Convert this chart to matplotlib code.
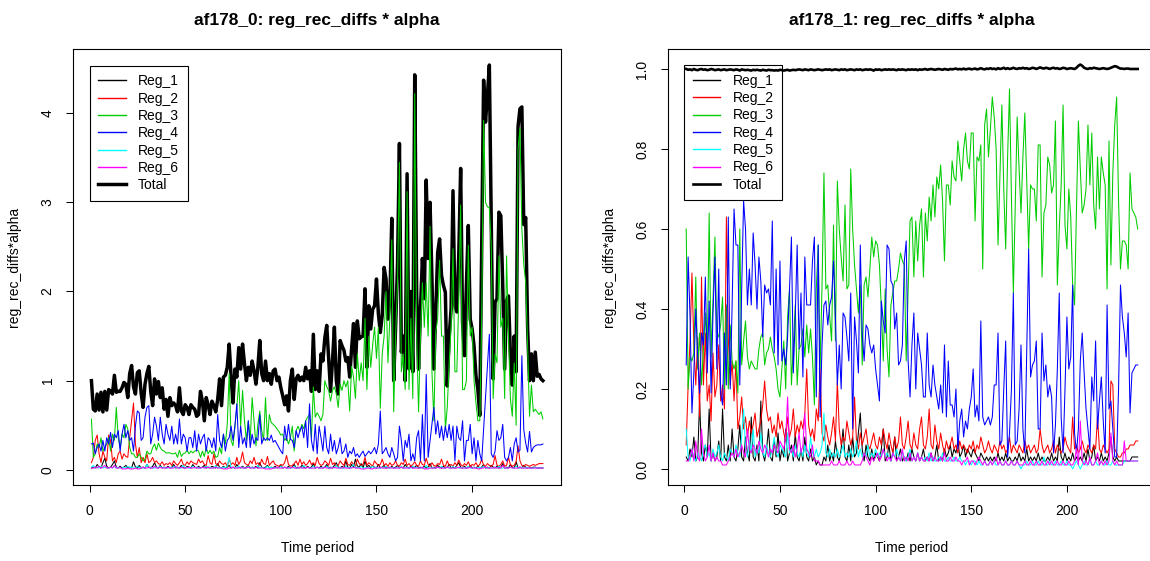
import numpy as np
import matplotlib
matplotlib.use("Agg")
import matplotlib.pyplot as plt

plt.rcParams['font.family'] = ['Liberation Sans', 'DejaVu Sans']

# ---------------- af178_0 (left panel) ----------------
left_total = [
    1.00, 0.68, 0.66, 0.85, 0.67, 0.87, 0.65, 0.88, 0.67, 0.90, 0.88, 0.85, 1.06, 0.87, 0.88, 0.88, 0.92, 0.98, 0.96, 0.81,
    1.08, 1.17, 0.93, 0.85, 1.09, 1.11, 0.86, 0.70, 0.96, 1.08, 1.16, 0.88, 0.72, 1.02, 0.85, 0.99, 0.81, 0.92, 0.68, 0.79,
    0.60, 0.81, 0.72, 0.75, 0.72, 0.65, 0.92, 0.66, 0.62, 0.73, 0.70, 0.62, 0.73, 0.70, 0.68, 0.60, 0.62, 0.88, 0.77, 0.55,
    0.81, 0.73, 0.62, 0.77, 0.72, 0.65, 0.79, 1.02, 0.72, 1.04, 1.06, 1.15, 1.41, 1.04, 0.75, 1.13, 1.04, 1.37, 1.13, 1.41,
    1.19, 1.00, 1.15, 1.06, 1.22, 1.11, 0.96, 1.15, 1.45, 1.08, 1.00, 1.22, 1.00, 1.08, 0.96, 1.11, 1.13, 1.00, 1.04, 0.92,
    0.83, 0.73, 0.83, 0.66, 1.00, 1.13, 0.79, 1.02, 1.06, 1.00, 1.04, 1.00, 1.15, 1.02, 1.11, 0.88, 1.52, 0.90, 1.11, 0.88,
    1.30, 1.22, 1.48, 1.62, 1.26, 0.88, 1.22, 1.60, 1.00, 0.85, 1.45, 1.39, 1.34, 1.22, 1.26, 1.04, 1.36, 1.64, 1.15, 1.67,
    1.47, 1.49, 1.50, 2.03, 1.15, 1.84, 1.58, 1.80, 1.84, 2.14, 1.75, 1.54, 1.73, 2.27, 2.14, 1.69, 1.90, 2.82, 1.00, 1.60,
    2.30, 3.66, 1.32, 1.50, 1.00, 3.32, 1.13, 2.00, 1.10, 4.43, 2.00, 1.13, 1.80, 2.37, 1.92, 3.25, 2.37, 3.00, 2.14, 1.13,
    1.80, 2.44, 2.59, 2.18, 2.07, 1.99, 0.94, 1.50, 1.80, 3.13, 1.84, 1.77, 2.40, 3.38, 1.65, 1.28, 2.07, 2.74, 1.69, 1.58,
    1.39, 1.06, 0.90, 0.61, 2.50, 4.37, 3.90, 4.20, 4.54, 2.74, 1.02, 1.88, 1.92, 2.89, 2.85, 2.07, 1.13, 1.90, 1.95, 1.30,
    0.95, 1.50, 1.10, 3.85, 4.05, 4.07, 2.75, 2.83, 1.60, 1.00, 1.30, 1.00, 1.32, 1.05, 1.07, 1.02, 1.00,
]
left_reg1 = [
    0.02, 0.03, 0.02, 0.06, 0.03, 0.02, 0.08, 0.13, 0.04, 0.02, 0.03, 0.06, 0.10, 0.03, 0.02, 0.04, 0.02, 0.03, 0.05, 0.02,
    0.03, 0.02, 0.09, 0.03, 0.02, 0.05, 0.02, 0.03, 0.02, 0.06, 0.03, 0.02, 0.04, 0.08, 0.03, 0.02, 0.05, 0.02, 0.03, 0.02,
    0.04, 0.02, 0.03, 0.06, 0.02, 0.03, 0.02, 0.05, 0.03, 0.02, 0.04, 0.03, 0.02, 0.06, 0.03, 0.02, 0.04, 0.02, 0.03, 0.05,
    0.02, 0.03, 0.02, 0.04, 0.03, 0.02, 0.07, 0.03, 0.02, 0.04, 0.02, 0.03, 0.05, 0.02, 0.03, 0.02, 0.06, 0.03, 0.02, 0.04,
    0.02, 0.03, 0.05, 0.02, 0.03, 0.02, 0.04, 0.02, 0.08, 0.03, 0.02, 0.03, 0.05, 0.02, 0.03, 0.02, 0.04, 0.02, 0.03, 0.05,
    0.02, 0.03, 0.02, 0.04, 0.02, 0.03, 0.06, 0.02, 0.03, 0.02, 0.05, 0.03, 0.02, 0.04, 0.02, 0.03, 0.07, 0.02, 0.03, 0.02,
    0.04, 0.02, 0.03, 0.06, 0.02, 0.03, 0.02, 0.05, 0.08, 0.03, 0.02, 0.04, 0.02, 0.10, 0.03, 0.02, 0.06, 0.03, 0.12, 0.04,
    0.03, 0.07, 0.02, 0.10, 0.03, 0.05, 0.02, 0.04, 0.03, 0.02, 0.06, 0.02, 0.03, 0.05, 0.02, 0.03, 0.02, 0.04, 0.02, 0.03,
    0.05, 0.02, 0.03, 0.02, 0.06, 0.03, 0.02, 0.04, 0.02, 0.03, 0.05, 0.02, 0.03, 0.02, 0.04, 0.02, 0.03, 0.07, 0.02, 0.03,
    0.02, 0.05, 0.03, 0.02, 0.04, 0.02, 0.03, 0.06, 0.02, 0.03, 0.02, 0.05, 0.08, 0.03, 0.02, 0.04, 0.02, 0.03, 0.05, 0.02,
    0.03, 0.02, 0.04, 0.02, 0.03, 0.06, 0.02, 0.03, 0.02, 0.05, 0.03, 0.02, 0.04, 0.02, 0.03, 0.07, 0.02, 0.03, 0.02, 0.06,
    0.03, 0.02, 0.09, 0.02, 0.03, 0.02, 0.05, 0.03, 0.02, 0.03, 0.02, 0.03, 0.03, 0.02, 0.02, 0.02, 0.02,
]
left_reg2 = [
    0.08, 0.14, 0.33, 0.39, 0.18, 0.08, 0.21, 0.14, 0.10, 0.39, 0.33, 0.10, 0.14, 0.08, 0.18, 0.21, 0.12, 0.18, 0.15, 0.14,
    0.36, 0.55, 0.75, 0.29, 0.14, 0.25, 0.08, 0.14, 0.08, 0.18, 0.08, 0.10, 0.14, 0.08, 0.10, 0.07, 0.06, 0.09, 0.05, 0.07,
    0.06, 0.08, 0.05, 0.10, 0.07, 0.05, 0.08, 0.12, 0.06, 0.05, 0.09, 0.06, 0.10, 0.08, 0.07, 0.06, 0.12, 0.08, 0.10, 0.06,
    0.05, 0.16, 0.08, 0.06, 0.18, 0.07, 0.05, 0.10, 0.07, 0.06, 0.08, 0.04, 0.12, 0.06, 0.08, 0.05, 0.14, 0.06, 0.10, 0.20,
    0.08, 0.06, 0.05, 0.10, 0.07, 0.14, 0.06, 0.08, 0.05, 0.12, 0.07, 0.06, 0.15, 0.05, 0.08, 0.10, 0.06, 0.05, 0.04, 0.06,
    0.05, 0.08, 0.16, 0.06, 0.04, 0.05, 0.07, 0.10, 0.05, 0.12, 0.06, 0.09, 0.05, 0.07, 0.11, 0.06, 0.08, 0.05, 0.14, 0.07,
    0.05, 0.06, 0.10, 0.08, 0.05, 0.13, 0.06, 0.08, 0.04, 0.05, 0.10, 0.07, 0.05, 0.13, 0.06, 0.05, 0.09, 0.06, 0.04, 0.12,
    0.07, 0.05, 0.06, 0.14, 0.05, 0.08, 0.06, 0.04, 0.10, 0.07, 0.05, 0.06, 0.12, 0.05, 0.07, 0.04, 0.08, 0.05, 0.06, 0.10,
    0.05, 0.04, 0.08, 0.06, 0.12, 0.05, 0.07, 0.04, 0.06, 0.09, 0.05, 0.04, 0.10, 0.06, 0.05, 0.13, 0.06, 0.04, 0.08, 0.05,
    0.04, 0.07, 0.06, 0.12, 0.05, 0.04, 0.10, 0.05, 0.06, 0.04, 0.08, 0.05, 0.11, 0.06, 0.04, 0.07, 0.05, 0.09, 0.04, 0.06,
    0.05, 0.08, 0.04, 0.06, 0.12, 0.05, 0.04, 0.07, 0.05, 0.04, 0.06, 0.16, 0.05, 0.04, 0.06, 0.10, 0.04, 0.05, 0.14, 0.06,
    0.04, 0.05, 0.09, 0.27, 0.10, 0.05, 0.04, 0.06, 0.05, 0.04, 0.05, 0.06, 0.05, 0.06, 0.07, 0.07, 0.07,
]
left_reg3 = [
    0.57, 0.14, 0.18, 0.29, 0.25, 0.36, 0.21, 0.25, 0.29, 0.36, 0.21, 0.40, 0.33, 0.70, 0.36, 0.25, 0.40, 0.36, 0.51, 0.46,
    0.25, 0.18, 0.18, 0.14, 0.14, 0.18, 0.14, 0.10, 0.12, 0.21, 0.18, 0.18, 0.25, 0.29, 0.22, 0.30, 0.25, 0.22, 0.21, 0.19,
    0.19, 0.19, 0.18, 0.18, 0.19, 0.14, 0.22, 0.15, 0.18, 0.19, 0.22, 0.18, 0.21, 0.19, 0.21, 0.22, 0.21, 0.14, 0.21, 0.15,
    0.25, 0.18, 0.22, 0.18, 0.21, 0.14, 0.15, 0.25, 0.18, 0.40, 0.29, 0.51, 1.08, 0.33, 0.27, 0.49, 0.70, 1.00, 0.49, 0.89,
    0.55, 0.33, 0.55, 0.33, 0.81, 0.55, 0.27, 0.51, 0.66, 0.44, 0.33, 0.81, 0.33, 0.62, 0.53, 0.51, 0.49, 0.46, 0.43, 0.39,
    0.40, 0.33, 0.36, 0.29, 0.36, 0.49, 0.21, 0.44, 0.49, 0.43, 0.51, 0.46, 0.55, 0.59, 0.62, 0.36, 0.93, 0.59, 0.64, 0.60,
    0.55, 0.62, 1.00, 0.93, 0.89, 0.77, 0.89, 0.93, 0.85, 0.70, 0.96, 0.89, 1.00, 0.93, 1.00, 0.66, 1.16, 1.04, 0.80, 1.30,
    1.00, 1.20, 1.00, 1.70, 0.90, 1.50, 1.15, 1.40, 1.60, 1.25, 1.60, 0.69, 1.30, 1.50, 2.00, 1.20, 1.70, 2.58, 0.65, 1.50,
    2.10, 3.45, 1.10, 1.30, 0.90, 3.12, 0.90, 1.70, 0.80, 4.22, 1.50, 0.65, 1.50, 2.10, 1.60, 2.10, 1.50, 2.73, 1.10, 0.55,
    1.55, 1.70, 2.35, 1.50, 1.50, 0.45, 0.70, 1.20, 1.60, 2.48, 1.10, 1.10, 1.90, 2.97, 0.90, 0.90, 1.00, 2.52, 1.50, 1.60,
    1.00, 0.75, 0.55, 0.55, 1.70, 3.92, 3.00, 2.95, 2.94, 2.50, 0.80, 1.30, 1.20, 2.40, 1.60, 1.70, 0.80, 2.40, 1.50, 0.80,
    0.60, 1.20, 0.50, 3.60, 3.83, 2.70, 2.30, 2.10, 1.40, 0.60, 0.95, 0.65, 0.68, 0.65, 0.62, 0.65, 0.57,
]
left_reg4 = [
    0.29, 0.30, 0.18, 0.25, 0.29, 0.21, 0.33, 0.21, 0.36, 0.29, 0.42, 0.25, 0.40, 0.36, 0.44, 0.21, 0.40, 0.51, 0.36, 0.44,
    0.33, 0.36, 0.21, 0.49, 0.66, 0.64, 0.33, 0.36, 0.59, 0.70, 0.72, 0.29, 0.40, 0.59, 0.49, 0.33, 0.59, 0.40, 0.29, 0.51,
    0.40, 0.33, 0.49, 0.29, 0.40, 0.29, 0.57, 0.29, 0.40, 0.36, 0.21, 0.36, 0.36, 0.25, 0.44, 0.21, 0.40, 0.29, 0.36, 0.40,
    0.21, 0.36, 0.33, 0.25, 0.36, 0.21, 0.62, 0.33, 0.25, 0.40, 0.21, 0.33, 0.36, 0.49, 0.33, 0.49, 0.74, 0.25, 0.49, 0.29,
    0.36, 0.25, 0.55, 0.25, 0.40, 0.29, 0.36, 0.33, 0.62, 0.29, 0.36, 0.33, 0.36, 0.33, 0.39, 0.31, 0.33, 0.29, 0.25, 0.21,
    0.18, 0.49, 0.33, 0.51, 0.34, 0.33, 0.25, 0.44, 0.36, 0.44, 0.49, 0.36, 0.55, 0.25, 0.74, 0.33, 0.21, 0.51, 0.18, 0.49,
    0.36, 0.21, 0.49, 0.25, 0.18, 0.40, 0.21, 0.33, 0.18, 0.25, 0.36, 0.18, 0.21, 0.29, 0.14, 0.21, 0.18, 0.25, 0.15, 0.18,
    0.14, 0.18, 0.21, 0.15, 0.18, 0.21, 0.18, 0.21, 0.25, 0.18, 0.29, 0.66, 0.18, 0.21, 0.25, 0.18, 0.14, 0.25, 0.18, 0.10,
    0.14, 0.49, 0.33, 0.10, 0.33, 0.25, 0.40, 0.10, 0.18, 0.10, 0.36, 0.44, 0.10, 0.62, 0.10, 1.07, 0.14, 0.33, 0.51, 0.70,
    0.40, 0.55, 0.36, 0.49, 0.33, 0.49, 0.36, 0.51, 0.33, 0.49, 0.10, 0.49, 0.36, 0.33, 0.55, 0.10, 0.33, 0.33, 0.51, 0.18,
    0.36, 0.10, 0.33, 0.18, 0.10, 0.45, 0.80, 1.15, 1.52, 0.18, 0.14, 0.21, 0.44, 0.33, 0.36, 0.51, 0.14, 0.10, 0.14, 0.25,
    0.10, 0.29, 0.36, 0.20, 0.22, 1.28, 0.45, 0.30, 0.20, 0.43, 0.20, 0.25, 0.27, 0.28, 0.28, 0.28, 0.29,
]
left_reg5 = [
    0.03, 0.05, 0.02, 0.03, 0.02, 0.04, 0.02, 0.03, 0.02, 0.02, 0.03, 0.02, 0.04, 0.02, 0.03, 0.02, 0.02, 0.03, 0.02, 0.04,
    0.02, 0.03, 0.02, 0.02, 0.04, 0.02, 0.03, 0.02, 0.02, 0.06, 0.02, 0.03, 0.02, 0.02, 0.03, 0.02, 0.04, 0.02, 0.03, 0.02,
    0.02, 0.03, 0.02, 0.04, 0.02, 0.03, 0.02, 0.02, 0.05, 0.02, 0.03, 0.02, 0.02, 0.04, 0.02, 0.03, 0.02, 0.02, 0.03, 0.02,
    0.04, 0.02, 0.03, 0.02, 0.02, 0.05, 0.02, 0.03, 0.02, 0.03, 0.02, 0.04, 0.14, 0.03, 0.02, 0.03, 0.02, 0.04, 0.02, 0.03,
    0.02, 0.02, 0.04, 0.02, 0.03, 0.02, 0.02, 0.05, 0.02, 0.03, 0.02, 0.02, 0.04, 0.02, 0.03, 0.02, 0.02, 0.03, 0.02, 0.04,
    0.02, 0.03, 0.02, 0.02, 0.03, 0.02, 0.04, 0.02, 0.02, 0.03, 0.02, 0.05, 0.02, 0.03, 0.02, 0.02, 0.04, 0.02, 0.03, 0.02,
    0.02, 0.03, 0.02, 0.04, 0.02, 0.02, 0.03, 0.02, 0.05, 0.02, 0.03, 0.02, 0.02, 0.04, 0.02, 0.03, 0.02, 0.06, 0.02, 0.03,
    0.02, 0.04, 0.02, 0.02, 0.03, 0.02, 0.02, 0.04, 0.02, 0.03, 0.02, 0.02, 0.03, 0.02, 0.04, 0.02, 0.02, 0.03, 0.02, 0.02,
    0.03, 0.02, 0.04, 0.02, 0.02, 0.03, 0.02, 0.02, 0.04, 0.02, 0.03, 0.02, 0.02, 0.03, 0.02, 0.05, 0.02, 0.02, 0.03, 0.02,
    0.02, 0.03, 0.02, 0.04, 0.02, 0.02, 0.03, 0.02, 0.02, 0.04, 0.02, 0.03, 0.02, 0.02, 0.03, 0.02, 0.02, 0.04, 0.02, 0.02,
    0.03, 0.02, 0.02, 0.03, 0.02, 0.04, 0.02, 0.02, 0.03, 0.02, 0.02, 0.03, 0.02, 0.04, 0.02, 0.02, 0.03, 0.02, 0.02, 0.03,
    0.02, 0.02, 0.04, 0.02, 0.02, 0.03, 0.02, 0.02, 0.03, 0.02, 0.02, 0.02, 0.03, 0.02, 0.02, 0.02, 0.02,
]
left_reg6 = [
    0.02, 0.02, 0.03, 0.02, 0.04, 0.02, 0.03, 0.05, 0.02, 0.02, 0.03, 0.02, 0.05, 0.02, 0.02, 0.03, 0.01, 0.01, 0.01, 0.02,
    0.01, 0.01, 0.01, 0.02, 0.01, 0.01, 0.02, 0.03, 0.02, 0.02, 0.03, 0.02, 0.02, 0.04, 0.02, 0.02, 0.03, 0.02, 0.02, 0.02,
    0.03, 0.02, 0.02, 0.02, 0.04, 0.02, 0.02, 0.03, 0.02, 0.02, 0.02, 0.03, 0.02, 0.02, 0.03, 0.02, 0.02, 0.02, 0.03, 0.02,
    0.02, 0.03, 0.02, 0.02, 0.02, 0.03, 0.02, 0.02, 0.02, 0.01, 0.01, 0.01, 0.02, 0.02, 0.03, 0.02, 0.02, 0.02, 0.03, 0.02,
    0.02, 0.02, 0.03, 0.02, 0.02, 0.02, 0.03, 0.02, 0.02, 0.02, 0.02, 0.01, 0.01, 0.01, 0.01, 0.02, 0.02, 0.03, 0.02, 0.02,
    0.02, 0.03, 0.02, 0.02, 0.02, 0.03, 0.02, 0.02, 0.02, 0.03, 0.02, 0.02, 0.02, 0.03, 0.02, 0.02, 0.02, 0.02, 0.03, 0.02,
    0.02, 0.02, 0.03, 0.02, 0.02, 0.02, 0.02, 0.03, 0.02, 0.02, 0.02, 0.02, 0.03, 0.02, 0.02, 0.02, 0.02, 0.03, 0.02, 0.02,
    0.02, 0.01, 0.01, 0.01, 0.02, 0.02, 0.01, 0.01, 0.02, 0.02, 0.02, 0.03, 0.02, 0.02, 0.02, 0.02, 0.03, 0.02, 0.02, 0.02,
    0.02, 0.02, 0.03, 0.02, 0.02, 0.02, 0.02, 0.03, 0.02, 0.02, 0.02, 0.02, 0.02, 0.03, 0.01, 0.01, 0.01, 0.02, 0.02, 0.02,
    0.02, 0.03, 0.02, 0.02, 0.02, 0.02, 0.03, 0.02, 0.02, 0.02, 0.02, 0.02, 0.03, 0.02, 0.02, 0.02, 0.02, 0.02, 0.03, 0.02,
    0.02, 0.02, 0.01, 0.01, 0.02, 0.02, 0.03, 0.02, 0.02, 0.02, 0.02, 0.03, 0.02, 0.02, 0.02, 0.05, 0.02, 0.02, 0.02, 0.03,
    0.02, 0.02, 0.02, 0.02, 0.03, 0.02, 0.02, 0.02, 0.02, 0.02, 0.02, 0.02, 0.02, 0.02, 0.02, 0.02, 0.02,
]

# ---------------- af178_1 (right panel) ----------------
right_total = [
    1.000, 0.998, 0.999, 0.997, 1.000, 0.998, 0.997, 0.999, 1.000, 0.998, 0.999, 0.997, 0.998, 1.000, 0.999, 0.997, 0.998, 0.999, 0.997, 0.998,
    0.999, 0.997, 0.998, 0.999, 0.998, 0.997, 0.999, 0.998, 0.996, 0.999, 0.998, 0.997, 0.998, 0.997, 0.996, 0.998, 0.997, 0.998, 0.997, 0.996,
    0.998, 0.997, 0.996, 0.998, 0.997, 0.997, 0.996, 0.997, 0.996, 0.998, 0.997, 0.996, 0.997, 0.998, 0.996, 0.997, 0.998, 0.997, 0.998, 0.999,
    0.998, 0.997, 0.999, 0.998, 0.997, 0.999, 0.998, 0.997, 0.998, 0.999, 0.998, 0.997, 0.998, 0.999, 0.998, 0.999, 0.997, 0.998, 0.999, 0.998,
    0.997, 0.999, 0.998, 0.999, 0.997, 0.998, 0.999, 0.998, 0.997, 0.999, 0.998, 0.999, 0.997, 0.998, 0.999, 0.998, 0.999, 0.998, 0.996, 0.999,
    0.998, 0.999, 0.997, 0.998, 0.999, 0.998, 0.999, 0.998, 0.999, 0.998, 0.997, 0.999, 0.998, 0.999, 0.998, 0.997, 0.999, 0.998, 0.999, 0.998,
    0.999, 0.997, 0.999, 0.998, 0.999, 1.000, 0.998, 0.999, 1.000, 0.999, 0.998, 0.999, 1.000, 0.999, 0.998, 1.000, 0.999, 0.998, 1.000, 0.999,
    1.000, 1.001, 0.999, 1.000, 0.999, 1.001, 0.999, 1.000, 1.001, 0.999, 1.000, 1.001, 0.999, 1.000, 1.002, 1.000, 0.999, 1.001, 1.000, 1.002,
    1.000, 1.001, 0.999, 1.002, 1.000, 1.001, 1.003, 1.000, 1.002, 1.000, 1.001, 1.003, 1.001, 1.000, 1.002, 1.001, 1.003, 1.001, 1.002, 1.000,
    1.001, 1.003, 1.002, 1.000, 1.002, 1.004, 1.002, 1.001, 1.003, 1.002, 1.000, 1.002, 1.003, 1.001, 1.002, 1.000, 1.001, 1.003, 1.002, 1.000,
    1.001, 1.002, 1.001, 1.000, 1.003, 1.008, 1.011, 1.008, 1.003, 1.001, 1.000, 1.002, 1.001, 1.003, 1.002, 1.001, 1.000, 1.001, 1.002, 1.001,
    1.000, 1.001, 1.003, 1.005, 1.007, 1.006, 1.003, 1.001, 1.001, 1.000, 1.001, 1.001, 1.000, 1.000, 1.000, 1.000, 1.000,
]
right_reg1 = [
    0.03, 0.02, 0.05, 0.03, 0.08, 0.02, 0.03, 0.17, 0.04, 0.02, 0.06, 0.03, 0.15, 0.02, 0.04, 0.02, 0.03, 0.07, 0.02, 0.15,
    0.03, 0.02, 0.06, 0.02, 0.10, 0.03, 0.02, 0.05, 0.11, 0.03, 0.02, 0.08, 0.04, 0.02, 0.13, 0.03, 0.02, 0.06, 0.02, 0.17,
    0.04, 0.02, 0.05, 0.10, 0.03, 0.02, 0.07, 0.03, 0.09, 0.02, 0.05, 0.03, 0.10, 0.02, 0.04, 0.06, 0.02, 0.09, 0.03, 0.02,
    0.05, 0.02, 0.08, 0.03, 0.02, 0.05, 0.02, 0.03, 0.01, 0.02, 0.01, 0.01, 0.03, 0.02, 0.06, 0.02, 0.04, 0.02, 0.07, 0.03,
    0.02, 0.05, 0.10, 0.03, 0.02, 0.06, 0.02, 0.08, 0.03, 0.04, 0.09, 0.14, 0.05, 0.02, 0.06, 0.03, 0.02, 0.05, 0.02, 0.04,
    0.03, 0.02, 0.05, 0.10, 0.02, 0.03, 0.06, 0.02, 0.04, 0.08, 0.02, 0.03, 0.05, 0.02, 0.03, 0.02, 0.04, 0.02, 0.05, 0.03,
    0.02, 0.04, 0.02, 0.03, 0.05, 0.02, 0.03, 0.02, 0.04, 0.02, 0.03, 0.06, 0.02, 0.03, 0.02, 0.05, 0.03, 0.04, 0.06, 0.03,
    0.05, 0.04, 0.07, 0.03, 0.04, 0.06, 0.03, 0.05, 0.04, 0.03, 0.05, 0.04, 0.03, 0.02, 0.04, 0.03, 0.02, 0.03, 0.02, 0.03,
    0.02, 0.03, 0.02, 0.04, 0.02, 0.03, 0.02, 0.04, 0.02, 0.03, 0.02, 0.02, 0.03, 0.02, 0.04, 0.02, 0.03, 0.02, 0.05, 0.02,
    0.03, 0.02, 0.03, 0.02, 0.04, 0.02, 0.03, 0.02, 0.02, 0.03, 0.02, 0.04, 0.02, 0.03, 0.02, 0.08, 0.03, 0.02, 0.04, 0.02,
    0.03, 0.02, 0.04, 0.02, 0.03, 0.02, 0.03, 0.02, 0.04, 0.02, 0.05, 0.02, 0.03, 0.06, 0.02, 0.03, 0.02, 0.04, 0.02, 0.03,
    0.02, 0.04, 0.08, 0.03, 0.02, 0.03, 0.02, 0.02, 0.02, 0.02, 0.02, 0.02, 0.02, 0.03, 0.03, 0.03, 0.03,
]
right_reg2 = [
    0.06, 0.21, 0.32, 0.49, 0.31, 0.21, 0.33, 0.13, 0.48, 0.21, 0.34, 0.17, 0.21, 0.12, 0.29, 0.18, 0.21, 0.31, 0.17, 0.21,
    0.15, 0.63, 0.33, 0.21, 0.27, 0.17, 0.27, 0.10, 0.13, 0.18, 0.10, 0.13, 0.08, 0.12, 0.09, 0.11, 0.14, 0.08, 0.10, 0.12,
    0.16, 0.22, 0.15, 0.12, 0.13, 0.09, 0.11, 0.08, 0.14, 0.10, 0.12, 0.09, 0.07, 0.13, 0.08, 0.10, 0.15, 0.08, 0.11, 0.09,
    0.12, 0.10, 0.14, 0.25, 0.11, 0.08, 0.10, 0.07, 0.15, 0.12, 0.25, 0.09, 0.07, 0.11, 0.08, 0.06, 0.09, 0.13, 0.07, 0.22,
    0.10, 0.06, 0.08, 0.07, 0.12, 0.09, 0.06, 0.08, 0.18, 0.07, 0.05, 0.09, 0.06, 0.08, 0.10, 0.06, 0.05, 0.07, 0.09, 0.06,
    0.05, 0.08, 0.06, 0.10, 0.07, 0.05, 0.09, 0.06, 0.04, 0.08, 0.05, 0.07, 0.13, 0.06, 0.05, 0.08, 0.12, 0.06, 0.05, 0.09,
    0.06, 0.05, 0.10, 0.13, 0.06, 0.05, 0.08, 0.15, 0.06, 0.05, 0.11, 0.07, 0.05, 0.09, 0.06, 0.04, 0.07, 0.05, 0.06, 0.08,
    0.05, 0.06, 0.04, 0.07, 0.05, 0.06, 0.05, 0.04, 0.06, 0.05, 0.07, 0.04, 0.06, 0.05, 0.08, 0.06, 0.04, 0.05, 0.07, 0.05,
    0.04, 0.06, 0.05, 0.04, 0.07, 0.05, 0.06, 0.04, 0.05, 0.08, 0.04, 0.06, 0.05, 0.04, 0.06, 0.05, 0.04, 0.07, 0.05, 0.06,
    0.04, 0.05, 0.06, 0.04, 0.05, 0.10, 0.06, 0.04, 0.05, 0.06, 0.04, 0.05, 0.07, 0.04, 0.06, 0.05, 0.04, 0.05, 0.08, 0.06,
    0.05, 0.04, 0.13, 0.05, 0.06, 0.04, 0.05, 0.07, 0.05, 0.04, 0.06, 0.05, 0.04, 0.06, 0.05, 0.13, 0.05, 0.04, 0.06, 0.05,
    0.04, 0.05, 0.22, 0.21, 0.05, 0.04, 0.03, 0.03, 0.04, 0.04, 0.05, 0.05, 0.06, 0.06, 0.06, 0.07, 0.07,
]
right_reg3 = [
    0.60, 0.20, 0.28, 0.27, 0.29, 0.48, 0.25, 0.34, 0.21, 0.30, 0.39, 0.28, 0.64, 0.28, 0.42, 0.58, 0.34, 0.33, 0.36, 0.43,
    0.20, 0.41, 0.20, 0.36, 0.27, 0.25, 0.27, 0.19, 0.60, 0.26, 0.32, 0.37, 0.28, 0.25, 0.27, 0.26, 0.25, 0.25, 0.30, 0.33,
    0.34, 0.26, 0.29, 0.30, 0.33, 0.30, 0.28, 0.25, 0.20, 0.18, 0.25, 0.32, 0.20, 0.38, 0.45, 0.21, 0.31, 0.41, 0.21, 0.30,
    0.31, 0.35, 0.28, 0.36, 0.29, 0.35, 0.28, 0.16, 0.45, 0.56, 0.25, 0.46, 0.74, 0.45, 0.46, 0.38, 0.32, 0.61, 0.32, 0.72,
    0.60, 0.53, 0.47, 0.66, 0.45, 0.46, 0.75, 0.60, 0.51, 0.45, 0.39, 0.46, 0.26, 0.46, 0.48, 0.43, 0.50, 0.58, 0.53, 0.57,
    0.56, 0.51, 0.40, 0.27, 0.45, 0.30, 0.23, 0.41, 0.44, 0.47, 0.47, 0.50, 0.54, 0.52, 0.51, 0.27, 0.45, 0.62, 0.63, 0.48,
    0.62, 0.52, 0.61, 0.65, 0.48, 0.64, 0.57, 0.68, 0.62, 0.71, 0.63, 0.73, 0.70, 0.76, 0.67, 0.52, 0.71, 0.71, 0.66, 0.77,
    0.73, 0.72, 0.82, 0.77, 0.72, 0.80, 0.84, 0.77, 0.75, 0.84, 0.84, 0.62, 0.78, 0.77, 0.81, 0.50, 0.86, 0.90, 0.78, 0.85,
    0.93, 0.88, 0.80, 0.56, 0.74, 0.91, 0.70, 0.55, 0.78, 0.95, 0.68, 0.44, 0.66, 0.88, 0.75, 0.64, 0.78, 0.89, 0.72, 0.55,
    0.71, 0.70, 0.70, 0.62, 0.81, 0.81, 0.48, 0.64, 0.66, 0.78, 0.76, 0.69, 0.71, 0.87, 0.46, 0.60, 0.71, 0.91, 0.61, 0.55,
    0.70, 0.63, 0.46, 0.41, 0.65, 0.87, 0.75, 0.64, 0.66, 0.70, 0.86, 0.71, 0.84, 0.66, 0.60, 0.78, 0.65, 0.78, 0.74, 0.71,
    0.45, 0.82, 0.51, 0.74, 0.86, 0.93, 0.67, 0.50, 0.57, 0.57, 0.56, 0.50, 0.74, 0.65, 0.64, 0.63, 0.60,
]
right_reg4 = [
    0.26, 0.53, 0.38, 0.14, 0.24, 0.40, 0.28, 0.19, 0.34, 0.31, 0.48, 0.24, 0.42, 0.19, 0.39, 0.53, 0.25, 0.50, 0.19, 0.16,
    0.34, 0.21, 0.63, 0.20, 0.41, 0.65, 0.56, 0.56, 0.21, 0.45, 0.67, 0.60, 0.41, 0.50, 0.41, 0.59, 0.51, 0.40, 0.53, 0.47,
    0.33, 0.46, 0.44, 0.45, 0.41, 0.62, 0.29, 0.50, 0.26, 0.52, 0.27, 0.30, 0.26, 0.33, 0.45, 0.58, 0.24, 0.38, 0.56, 0.30,
    0.44, 0.23, 0.53, 0.41, 0.41, 0.41, 0.52, 0.58, 0.18, 0.56, 0.13, 0.31, 0.41, 0.42, 0.36, 0.41, 0.43, 0.52, 0.38, 0.21,
    0.31, 0.20, 0.39, 0.38, 0.33, 0.27, 0.44, 0.10, 0.38, 0.32, 0.24, 0.56, 0.34, 0.27, 0.36, 0.35, 0.31, 0.29, 0.31, 0.25,
    0.21, 0.17, 0.42, 0.37, 0.34, 0.56, 0.55, 0.47, 0.46, 0.35, 0.39, 0.26, 0.27, 0.31, 0.52, 0.57, 0.27, 0.18, 0.31, 0.39,
    0.20, 0.34, 0.30, 0.26, 0.18, 0.18, 0.34, 0.21, 0.18, 0.26, 0.21, 0.18, 0.15, 0.21, 0.14, 0.31, 0.13, 0.27, 0.16, 0.16,
    0.13, 0.20, 0.05, 0.12, 0.15, 0.08, 0.12, 0.10, 0.15, 0.18, 0.25, 0.13, 0.16, 0.12, 0.37, 0.13, 0.11, 0.12, 0.13, 0.11,
    0.13, 0.21, 0.21, 0.34, 0.06, 0.07, 0.20, 0.32, 0.03, 0.09, 0.20, 0.44, 0.06, 0.07, 0.15, 0.31, 0.10, 0.04, 0.30, 0.55,
    0.23, 0.26, 0.27, 0.32, 0.10, 0.10, 0.34, 0.22, 0.26, 0.18, 0.21, 0.18, 0.04, 0.11, 0.25, 0.44, 0.13, 0.04, 0.20, 0.38,
    0.25, 0.28, 0.46, 0.09, 0.04, 0.10, 0.27, 0.34, 0.24, 0.15, 0.10, 0.05, 0.23, 0.17, 0.32, 0.10, 0.17, 0.23, 0.12, 0.04,
    0.41, 0.15, 0.17, 0.10, 0.03, 0.03, 0.20, 0.46, 0.38, 0.34, 0.28, 0.39, 0.14, 0.24, 0.25, 0.26, 0.26,
]
right_reg5 = [
    0.10, 0.03, 0.02, 0.05, 0.03, 0.02, 0.04, 0.03, 0.02, 0.05, 0.06, 0.03, 0.04, 0.02, 0.05, 0.03, 0.04, 0.06, 0.03, 0.02,
    0.04, 0.03, 0.02, 0.05, 0.04, 0.03, 0.06, 0.04, 0.03, 0.08, 0.15, 0.05, 0.03, 0.07, 0.04, 0.10, 0.03, 0.05, 0.04, 0.09,
    0.04, 0.03, 0.06, 0.04, 0.03, 0.05, 0.08, 0.04, 0.03, 0.06, 0.05, 0.04, 0.03, 0.09, 0.04, 0.05, 0.03, 0.06, 0.04, 0.03,
    0.05, 0.03, 0.06, 0.04, 0.03, 0.08, 0.04, 0.03, 0.05, 0.03, 0.04, 0.06, 0.14, 0.04, 0.03, 0.05, 0.03, 0.04, 0.03, 0.05,
    0.03, 0.04, 0.06, 0.03, 0.04, 0.03, 0.05, 0.03, 0.04, 0.07, 0.03, 0.05, 0.03, 0.04, 0.03, 0.06, 0.03, 0.04, 0.03, 0.05,
    0.03, 0.04, 0.03, 0.05, 0.03, 0.04, 0.03, 0.02, 0.04, 0.03, 0.05, 0.03, 0.02, 0.04, 0.03, 0.02, 0.03, 0.05, 0.02, 0.03,
    0.02, 0.04, 0.02, 0.03, 0.02, 0.03, 0.02, 0.04, 0.02, 0.03, 0.02, 0.02, 0.03, 0.02, 0.04, 0.02, 0.02, 0.03, 0.02, 0.02,
    0.03, 0.02, 0.02, 0.03, 0.02, 0.02, 0.01, 0.02, 0.02, 0.01, 0.02, 0.02, 0.01, 0.02, 0.01, 0.01, 0.02, 0.01, 0.01, 0.02,
    0.01, 0.02, 0.01, 0.01, 0.02, 0.01, 0.01, 0.02, 0.01, 0.01, 0.02, 0.01, 0.01, 0.02, 0.01, 0.00, 0.01, 0.01, 0.02, 0.01,
    0.01, 0.02, 0.01, 0.01, 0.02, 0.01, 0.01, 0.03, 0.01, 0.01, 0.02, 0.01, 0.01, 0.02, 0.01, 0.01, 0.02, 0.01, 0.01, 0.02,
    0.01, 0.01, 0.00, 0.01, 0.02, 0.01, 0.00, 0.01, 0.02, 0.01, 0.01, 0.02, 0.01, 0.01, 0.02, 0.01, 0.01, 0.02, 0.01, 0.01,
    0.02, 0.01, 0.01, 0.02, 0.01, 0.01, 0.01, 0.01, 0.01, 0.02, 0.02, 0.02, 0.02, 0.02, 0.02, 0.02, 0.02,
]
right_reg6 = [
    0.02, 0.02, 0.03, 0.05, 0.02, 0.07, 0.03, 0.02, 0.10, 0.04, 0.02, 0.03, 0.06, 0.02, 0.04, 0.02, 0.03, 0.02, 0.02, 0.01,
    0.01, 0.01, 0.02, 0.03, 0.04, 0.03, 0.05, 0.03, 0.04, 0.06, 0.04, 0.03, 0.10, 0.05, 0.04, 0.06, 0.05, 0.04, 0.07, 0.05,
    0.04, 0.06, 0.05, 0.03, 0.05, 0.04, 0.06, 0.05, 0.04, 0.07, 0.06, 0.05, 0.08, 0.18, 0.05, 0.04, 0.06, 0.03, 0.05, 0.09,
    0.04, 0.06, 0.14, 0.05, 0.04, 0.03, 0.06, 0.02, 0.02, 0.02, 0.01, 0.01, 0.01, 0.01, 0.01, 0.01, 0.02, 0.01, 0.01, 0.01,
    0.02, 0.01, 0.01, 0.01, 0.02, 0.01, 0.01, 0.02, 0.01, 0.01, 0.01, 0.01, 0.02, 0.04, 0.03, 0.02, 0.01, 0.03, 0.02, 0.03,
    0.04, 0.02, 0.03, 0.05, 0.03, 0.02, 0.03, 0.02, 0.04, 0.03, 0.02, 0.03, 0.02, 0.05, 0.02, 0.03, 0.02, 0.04, 0.02, 0.03,
    0.02, 0.04, 0.02, 0.03, 0.02, 0.02, 0.03, 0.02, 0.04, 0.02, 0.03, 0.02, 0.02, 0.03, 0.02, 0.04, 0.02, 0.02, 0.03, 0.02,
    0.02, 0.03, 0.02, 0.02, 0.01, 0.02, 0.02, 0.03, 0.01, 0.02, 0.02, 0.01, 0.02, 0.03, 0.02, 0.01, 0.02, 0.01, 0.01, 0.02,
    0.01, 0.02, 0.03, 0.01, 0.02, 0.01, 0.01, 0.02, 0.01, 0.01, 0.02, 0.01, 0.01, 0.02, 0.01, 0.01, 0.01, 0.02, 0.01, 0.01,
    0.02, 0.01, 0.01, 0.02, 0.01, 0.01, 0.02, 0.01, 0.01, 0.02, 0.01, 0.02, 0.01, 0.01, 0.02, 0.01, 0.01, 0.02, 0.01, 0.01,
    0.02, 0.01, 0.01, 0.02, 0.05, 0.01, 0.12, 0.02, 0.01, 0.02, 0.01, 0.03, 0.01, 0.01, 0.02, 0.04, 0.01, 0.02, 0.01, 0.02,
    0.01, 0.02, 0.09, 0.02, 0.01, 0.02, 0.01, 0.01, 0.01, 0.07, 0.02, 0.02, 0.02, 0.02, 0.02, 0.02, 0.02,
]

reg_names = ["Reg_1", "Reg_2", "Reg_3", "Reg_4", "Reg_5", "Reg_6"]
reg_colors = ["black", "#FF0000", "#00CD00", "#0000FF", "#00FFFF", "#FF00FF"]
x_ticks = [0, 50, 100, 150, 200]


def draw_panel(ax, title, total, regs, ylim, yticks, yfmt, total_lw, legend_top):
    # total first, regions on top of it (like R's plot() + lines())
    ax.plot(np.arange(1, len(total) + 1), total, color="black", lw=total_lw)
    for vals, col in zip(regs, reg_colors):
        ax.plot(np.arange(1, len(vals) + 1), vals, color=col, lw=0.75)

    ax.set_xlim(-8.44, 246.44)
    ax.set_ylim(*ylim)
    ax.set_xticks(x_ticks)
    ax.set_yticks(yticks)
    ax.set_yticklabels([yfmt.format(v) for v in yticks], rotation=90, va="center")
    ax.tick_params(direction="out", length=5, width=0.75, labelsize=10, pad=8.5)
    ax.tick_params(axis="x", pad=9)
    for sp in ax.spines.values():
        sp.set_linewidth(0.8)
        sp.set_color("black")

    ax.set_title(title, fontsize=12.5, fontweight="bold", pad=17)
    ax.set_xlabel("Time period", fontsize=10, labelpad=16)
    ax.set_ylabel("reg_rec_diffs*alpha", fontsize=10, labelpad=14)

    handles = [plt.Line2D([], [], color=c, lw=1.0) for c in reg_colors]
    handles.append(plt.Line2D([], [], color="black", lw=total_lw))
    leg = ax.legend(handles, reg_names + ["Total"], loc="upper left",
                    bbox_to_anchor=(0, legend_top), bbox_transform=ax.transData,
                    borderaxespad=0, fontsize=10, fancybox=False, framealpha=1,
                    edgecolor="black", handlelength=2.0, handletextpad=0.9,
                    labelspacing=0.24, borderpad=0.6)
    leg.get_frame().set_facecolor("none")
    leg.get_frame().set_linewidth(0.8)


fig = plt.figure(figsize=(11.5, 5.61), dpi=100)
ax_left = fig.add_axes([0.0638, 0.1355, 0.424, 0.7772])
ax_right = fig.add_axes([0.5810, 0.1355, 0.424, 0.7772])

draw_panel(ax_left, "af178_0: reg_rec_diffs * alpha", left_total,
           [left_reg1, left_reg2, left_reg3, left_reg4, left_reg5, left_reg6],
           (-0.17, 4.72), [0, 1, 2, 3, 4], "{:.0f}", 2.5, 4.53)
draw_panel(ax_right, "af178_1: reg_rec_diffs * alpha", right_total,
           [right_reg1, right_reg2, right_reg3, right_reg4, right_reg5, right_reg6],
           (-0.04, 1.05), [0.0, 0.2, 0.4, 0.6, 0.8, 1.0], "{:.1f}", 1.9, 1.009)

fig.savefig("out.png", dpi=100)
